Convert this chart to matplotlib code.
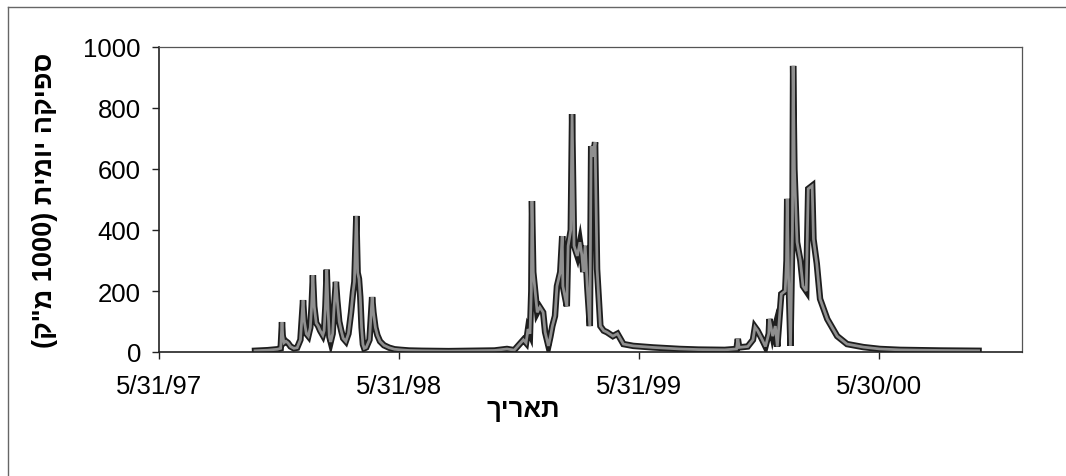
import matplotlib
matplotlib.use("Agg")
import matplotlib.pyplot as plt
import matplotlib.patheffects as pe
from matplotlib.lines import Line2D
import pandas as pd

plt.rcParams['font.family'] = ['Liberation Sans', 'DejaVu Sans']

# Daily discharge, days counted from 31 May 1997, values in 1000 m3
start = pd.Timestamp('1997-05-31')

day = [146, 165, 180, 185, 187, 188, 190, 193, 196, 200, 205, 210, 215, 219, 221,
       224, 227, 230, 232, 234, 236, 239, 242, 245, 249, 251, 253, 255, 257, 259,
       261, 264, 266, 269, 271, 274, 277, 280, 284, 288, 292, 295, 297, 300, 302,
       304, 306, 308, 310, 312, 315, 320, 324, 326, 329, 332, 336, 342, 350, 358,
       368, 380, 400, 440, 480, 510, 529, 540,
       554, 558, 561, 564, 566, 567, 569, 572, 575, 579, 584, 587, 592, 595, 598,
       602, 605, 610, 613, 614, 620, 622, 626, 628, 631, 636, 640, 643, 645, 648,
       651, 655, 657, 660, 663, 666, 671, 676, 681, 690, 697, 706, 721, 751, 792,
       820, 860,
       878, 880, 882, 895, 903, 906, 910, 916, 922, 927, 928, 933, 937, 940, 946,
       952, 954, 955, 957, 960, 963, 964, 966, 970, 975, 979, 984, 987, 993, 995,
       1000, 1005, 1016, 1031, 1046, 1071, 1096, 1127, 1188, 1246]

flow = [4, 6, 9, 12, 98, 55, 30, 35, 30, 18, 12, 14, 40, 170, 100,
        60, 52, 80, 150, 252, 150, 95, 85, 70, 55, 70, 150, 270, 140, 50,
        33, 60, 140, 230, 170, 100, 70, 45, 35, 60, 130, 197, 230, 446, 260,
        240, 180, 80, 25, 12, 15, 40, 180, 130, 80, 55, 35, 22, 14, 9,
        7, 5, 4, 3, 4, 5, 10, 6,
        40, 30, 75, 60, 200, 495, 262, 197, 130, 147, 130, 65, 20, 50, 85,
        118, 216, 262, 380, 216, 150, 348, 400, 780, 348, 315, 360, 315, 262, 348,
        216, 85, 675, 640, 688, 272, 85, 70, 65, 52, 60, 26, 20, 15, 10,
        8, 7,
        10, 43, 15, 18, 40, 82, 70, 45, 18, 60, 108, 52, 85, 18, 190,
        200, 300, 502, 250, 20, 400, 938, 600, 360, 300, 216, 200, 535, 545, 370,
        290, 174, 108, 52, 26, 16, 10, 7, 5, 4]

tick_days = [0, 365, 730, 1095]
tick_labels = ['5/31/97', '5/31/98', '5/31/99', '5/30/00']
y_ticks = [0, 200, 400, 600, 800, 1000]

dates = start + pd.to_timedelta(day, unit='D')
tick_dates = start + pd.to_timedelta(tick_days, unit='D')

fig = plt.figure(figsize=(10.66, 4.77), dpi=100)
ax = fig.add_axes([159 / 1066, 1 - 353 / 477, (1022 - 159) / 1066, (353 - 48) / 477])

ax.plot(dates, flow, color='#8f8f8f', lw=2.0, solid_joinstyle='miter',
        path_effects=[pe.Stroke(linewidth=4.6, foreground='#1e1e1e'), pe.Normal()])

ax.set_xlim(start, start + pd.Timedelta(days=1312))
ax.set_ylim(0, 1000)
ax.set_xticks(tick_dates)
ax.set_xticklabels(tick_labels)
ax.set_yticks(y_ticks)
ax.tick_params(axis='both', direction='out', length=5, width=1, labelsize=18.5, color='#222222')
ax.tick_params(axis='x', pad=11)
ax.tick_params(axis='y', pad=8)

for side in ['left', 'bottom']:
    ax.spines[side].set_color('#222222')
    ax.spines[side].set_linewidth(1.2)
for side in ['top', 'right']:
    ax.spines[side].set_color('#555555')
    ax.spines[side].set_linewidth(0.9)

# Hebrew labels written in visual (left-to-right) order
fig.text(45 / 1066, 1 - 200 / 477, '(ק"מ 1000) תימוי הקיפס', rotation=90,
         ha='center', va='center', fontsize=19.5, fontweight='bold')
fig.text(523 / 1066, 1 - 410 / 477, 'ךיראת', ha='center', va='center',
         fontsize=18.5, fontweight='bold')

# chart area frame
fig.add_artist(Line2D([8 / 1066, 1], [1 - 8 / 477, 1 - 8 / 477], color='#666666', lw=1))
fig.add_artist(Line2D([8 / 1066, 8 / 1066], [0, 1 - 8 / 477], color='#666666', lw=1))

fig.savefig('out.png', dpi=100)
